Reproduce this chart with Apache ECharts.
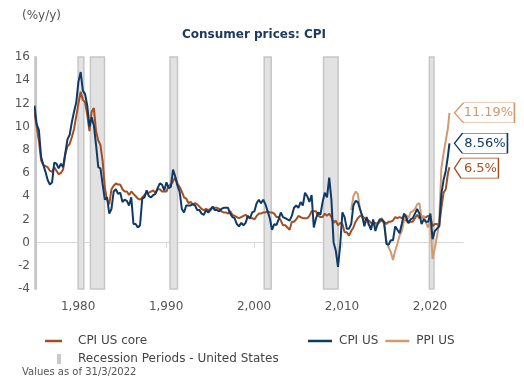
<!DOCTYPE html>
<html><head><meta charset="utf-8">
<script src="https://cdn.jsdelivr.net/npm/echarts@6/dist/echarts.min.js"></script>
<style>html,body{margin:0;padding:0;background:#fff}#c{width:524px;height:388px}</style>
</head><body><div id="c"></div>
<script>
// Quarterly observations (Jan, Apr, Jul, Oct) starting Jan 1975, %y/y
const startYear = 1975;
const cpiUS = [
 11.8,10.2,9.7,7.4, 6.7,6.1,5.4,5.0, 5.2,6.9,6.8,6.4, 6.8,6.5,7.7,8.9, 9.3,10.4,11.3,12.1,
 13.9,14.7,13.1,12.8, 11.8,10.0,10.8,10.1, 8.4,6.5,6.4,5.0, 3.7,3.9,2.5,2.9, 4.4,4.6,4.2,4.3,
 3.5,3.7,3.6,3.2, 3.9,1.6,1.6,1.3, 1.5,3.8,3.9,4.5, 4.0,3.9,4.1,4.2, 4.7,5.1,5.0,4.5,
 5.2,4.7,4.8,6.3, 5.7,4.9,4.4,2.9, 2.6,3.2,3.2,3.2, 3.3,3.2,2.8,2.8, 2.5,2.4,2.8,2.6,
 2.8,3.1,2.8,2.8, 2.7,2.9,3.0,3.0, 3.0,2.5,2.2,2.1, 1.6,1.4,1.7,1.5, 1.7,2.3,2.1,2.6,
 2.7,3.4,3.7,3.4, 3.7,3.3,2.7,2.1, 1.1,1.6,1.5,2.0, 2.6,2.2,2.1,2.0, 1.9,2.3,3.0,3.2,
 3.0,3.5,3.2,4.3, 4.0,3.5,4.1,1.3, 2.1,2.6,2.4,3.5, 4.3,3.9,5.6,3.7, 0.0,-0.7,-2.1,-0.2,
 2.6,2.2,1.2,1.2, 1.6,3.2,3.6,3.5, 2.9,2.3,1.4,2.2, 1.6,1.1,2.0,1.0, 1.6,2.0,2.0,1.7,
 -0.1,-0.2,0.2,0.2, 1.4,1.1,0.8,1.6, 2.5,2.2,1.7,2.0, 2.1,2.5,2.9,2.5, 1.6,2.0,1.8,1.8,
 2.5,0.3,1.0,1.2, 1.4,4.2,5.4,6.2, 7.5
];
const cpiCore = [
 11.2,10.0,8.8,7.1, 6.7,6.6,6.5,6.2, 6.1,6.5,6.2,5.9, 6.0,6.3,7.6,8.3, 8.5,9.1,9.8,10.9,
 12.0,13.0,12.3,12.1, 11.0,9.6,11.3,11.6, 9.6,8.8,8.4,7.0, 4.7,3.7,3.3,4.6, 4.9,5.1,5.0,5.0,
 4.6,4.4,4.4,4.1, 4.4,4.2,4.0,3.8, 3.7,3.9,4.1,4.3, 4.3,4.4,4.5,4.3, 4.6,4.6,4.4,4.4,
 4.4,4.9,5.0,5.3, 5.6,5.1,4.8,4.4, 3.9,3.8,3.4,3.5, 3.3,3.4,3.3,3.1, 2.9,2.8,2.9,2.8,
 2.9,3.0,3.0,3.0, 2.9,2.7,2.6,2.6, 2.5,2.7,2.4,2.3, 2.2,2.1,2.2,2.3, 2.4,2.2,2.1,2.1,
 2.0,2.3,2.5,2.5, 2.6,2.6,2.7,2.6, 2.6,2.5,2.2,2.2, 1.9,1.5,1.5,1.3, 1.1,1.8,1.8,2.0,
 2.3,2.2,2.1,2.1, 2.1,2.3,2.7,2.7, 2.7,2.3,2.2,2.2, 2.5,2.3,2.5,2.2, 1.7,1.9,1.5,1.7,
 1.6,0.9,0.9,0.6, 1.0,1.3,1.8,2.1, 2.3,2.3,2.1,2.0, 1.9,1.7,1.7,1.7, 1.6,1.8,1.9,1.8,
 1.6,1.8,1.8,1.9, 2.2,2.1,2.2,2.1, 2.3,1.9,1.7,1.8, 1.8,2.1,2.4,2.1, 2.2,2.1,2.2,2.3,
 2.3,1.4,1.6,1.6, 1.4,3.0,4.3,4.6, 6.0
];
// PPI US quarterly starting Jan 2011
const ppiStartYear = 2011;
const ppiUS = [
 2.8,4.0,4.4,4.2, 2.9,2.2,1.8,1.9, 1.5,1.4,1.6,1.5, 1.6,2.0,2.1,1.5, 0.2,-0.4,-0.8,-1.5,
 -0.7,-0.1,0.6,1.0, 1.9,2.4,2.1,2.6, 2.7,2.9,3.3,3.4, 2.2,2.3,1.7,1.3, 2.0,-1.4,-0.5,0.5,
 1.7,6.4,7.7,8.8, 9.9
];
// Latest values (March 2022)
const latestYear = 2022 + 2.5/12;
const latestCore = 6.5, latestCpi = 8.56, latestPpi = 11.19;

// US recessions (decimal years)
const recessionStart = [1973.9, 1980.0, 1981.4, 1990.45, 2001.15, 2007.9, 2019.93];
const recessionEnd   = [1975.25, 1980.65, 1983.0, 1991.3, 2001.95, 2009.55, 2020.45];

const xTicks = [1980, 1990, 2000, 2010, 2020];
const yMin = -4, yMax = 16, yStep = 2;

const FONT = 'DejaVu Sans';
const C_CORE = '#a34f22', C_CPI = '#0f3a68', C_PPI = '#d19a6f', C_REC = '#c9c9c9';

function qTime(i, y0){ return y0 + i*0.25 + 1/24; }
const coreData = cpiCore.map((v,i)=>[qTime(i,startYear), v]).concat([[latestYear, latestCore]]);
const cpiData  = cpiUS.map((v,i)=>[qTime(i,startYear), v]).concat([[latestYear, latestCpi]]);
const ppiData  = ppiUS.map((v,i)=>[qTime(i,ppiStartYear), v]).concat([[latestYear, latestPpi]]);

const tagPath = 'path://M0,10L9,0L60,0L60,20L9,20Z';
function tag(val, color, w, dy){
  return {
    symbol: tagPath, symbolSize: [w, 20], symbolKeepAspect: false,
    symbolOffset: [w/2 + 5, dy],
    itemStyle: {color: '#fff', borderColor: color, borderWidth: 1},
    label: {show: true, position: 'inside', offset: [4, 0], color: color,
            fontFamily: FONT, fontSize: 13, formatter: () => val + '%'},
    data: [{coord: [latestYear, val]}],
    silent: true
  };
}

const chart = echarts.init(document.getElementById('c'), null, {renderer: 'canvas'});
chart.setOption({
  animation: false,
  textStyle: {fontFamily: FONT},
  title: [
    {text: '(%y/y)', left: 17, top: 5, textStyle: {fontFamily: FONT, fontSize: 12, fontWeight: 'normal', color: '#555'}},
    {text: 'Consumer prices: CPI', left: 177, top: 24, textStyle: {fontFamily: FONT, fontSize: 12, fontWeight: 'bold', color: '#1f3a62'}},
    {text: 'Values as of 31/3/2022', left: 17, top: 362, textStyle: {fontFamily: FONT, fontSize: 10, fontWeight: 'normal', color: '#555'}}
  ],
  grid: {left: 35, right: 61, top: 57, bottom: 99},
  xAxis: {
    type: 'value', min: 1975.1, max: 2023.75,
    axisLine: {show: true, lineStyle: {color: '#d9d9d9'}},
    axisTick: {show: true, customValues: xTicks, length: 5, lineStyle: {color: '#d9d9d9'}},
    axisLabel: {customValues: xTicks, color: '#555', fontSize: 12, fontFamily: FONT, margin: 12},
    splitLine: {show: false}
  },
  yAxis: {
    type: 'value', min: yMin, max: yMax, interval: yStep,
    axisLine: {show: false}, axisTick: {show: false},
    axisLabel: {color: '#555', fontSize: 12, fontFamily: FONT, margin: 5},
    splitLine: {show: false}
  },
  legend: [
    {data: [{name: 'CPI US core', icon: 'rect'}], left: 40, top: 330, itemWidth: 17, itemHeight: 2.5,
     textStyle: {fontSize: 12, color: '#444', padding: [0,0,0,11]}},
    {data: [{name: 'CPI US', icon: 'rect'}, {name: 'PPI US', icon: 'rect'}], left: 303, top: 330, itemWidth: 24, itemHeight: 2.5, itemGap: 7,
     textStyle: {fontSize: 12, color: '#444', padding: [0,0,0,2]}},
    {data: [{name: 'Recession Periods - United States', icon: 'rect'}], left: 52, top: 348, itemWidth: 4, itemHeight: 10,
     textStyle: {fontSize: 12, color: '#444', padding: [0,0,0,12]}}
  ],
  series: [
    {name: 'Recession Periods - United States', type: 'line', data: [], color: C_REC,
     itemStyle: {color: C_REC},
     markArea: {silent: true,
       itemStyle: {color: '#e2e2e2', borderColor: '#c6c6c6', borderWidth: 1.5},
       data: recessionStart.map((s,i)=>[{xAxis: s}, {xAxis: recessionEnd[i]}])}},
    {name: 'CPI US core', type: 'line', data: coreData, showSymbol: false, color: C_CORE,
     lineStyle: {width: 2, color: C_CORE}, z: 3, markPoint: tag(latestCore, C_CORE, 44, 1)},
    {name: 'PPI US', type: 'line', data: ppiData, showSymbol: false, color: C_PPI,
     lineStyle: {width: 2, color: C_PPI}, z: 4, markPoint: tag(latestPpi, C_PPI, 60, 0)},
    {name: 'CPI US', type: 'line', data: cpiData, showSymbol: false, color: C_CPI,
     lineStyle: {width: 2, color: C_CPI}, z: 5, markPoint: tag(latestCpi, C_CPI, 53, 0)}
  ]
});
</script></body></html>
